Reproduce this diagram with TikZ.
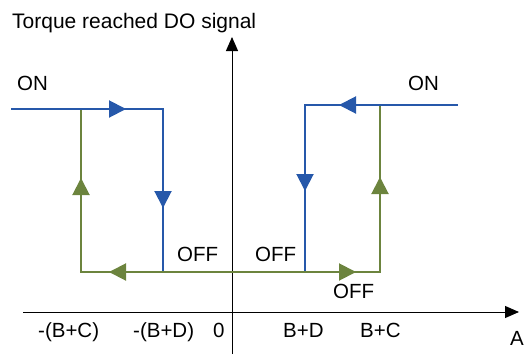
\documentclass[tikz,border=0pt]{standalone}
\usepackage{fontspec}
\setmainfont{Liberation Sans}
\usetikzlibrary{arrows.meta}
\definecolor{sigblue}{RGB}{38,88,170}
\definecolor{siggreen}{RGB}{108,132,62}
\begin{document}
\begin{tikzpicture}[x=1pt,y=-1pt,
  lbl/.style={inner sep=0pt, anchor=base west, font=\fontsize{20.5}{24}\selectfont},
  axisline/.style={line width=1pt, black},
  axistip/.style={-{Triangle[length=14pt,width=12pt]}},
  bluel/.style={line width=2pt, sigblue},
  greenl/.style={line width=2pt, siggreen},
  headtip/.style={-{Triangle[length=17pt,width=17pt]}},
]
\useasboundingbox (0,0) rectangle (525,354);

% coordinates
\coordinate (vbot) at (232,354);
\coordinate (vtop) at (232,37);
\coordinate (hleft) at (23,312);
\coordinate (hright) at (519,312);

\coordinate (bl0) at (11,109);
\coordinate (bl1) at (163,109);
\coordinate (bl2) at (163,271);
\coordinate (br0) at (458,105);
\coordinate (br1) at (305,105);
\coordinate (br2) at (305,271);

\coordinate (gl0) at (81,109);
\coordinate (gl1) at (81,272);
\coordinate (gr1) at (380,272);
\coordinate (gr0) at (380,105);

% axes
\draw[axisline] (vbot) -- (vtop |- hleft);
\draw[axisline, axistip] (vtop |- hleft) -- (vtop);
\draw[axisline, axistip] (hleft) -- (hright);

% green path
\draw[greenl] (gl0) -- (gl1) -- (gr1) -- (gr0);
\draw[greenl, headtip] (81,196) -- (81,178);
\draw[greenl, headtip] (127,272) -- (109,272);
\draw[greenl, headtip] (338,272) -- (356,272);
\draw[greenl, headtip] (380,195) -- (380,177);

% blue paths
\draw[bluel] (bl0) -- (bl1) -- (bl2);
\draw[bluel, headtip] (108,109) -- (126,109);
\draw[bluel, headtip] (163,190) -- (163,208);
\draw[bluel] (br0) -- (br1) -- (br2);
\draw[bluel, headtip] (357,105) -- (339,105);
\draw[bluel, headtip] (305,173) -- (305,191);

% labels
\node[lbl, font=\fontsize{21}{24}\selectfont] (title) at (12,28) {Torque reached DO signal};
\node[lbl] (onL) at (17,90) {ON};
\node[lbl] (onR) at (408,90) {ON};
\node[lbl] (offL) at (177,261) {OFF};
\node[lbl] (offM) at (255,261) {OFF};
\node[lbl] (offB) at (333,298) {OFF};
\node[lbl] (xbc) at (38,337) {-(B+C)};
\node[lbl] (xbd) at (133,337) {-(B+D)};
\node[lbl] (x0) at (213,337) {0};
\node[lbl] (pbd) at (283,337) {B+D};
\node[lbl] (pbc) at (360,337) {B+C};
\node[lbl] (ax) at (510,345) {A};
\end{tikzpicture}
\end{document}
